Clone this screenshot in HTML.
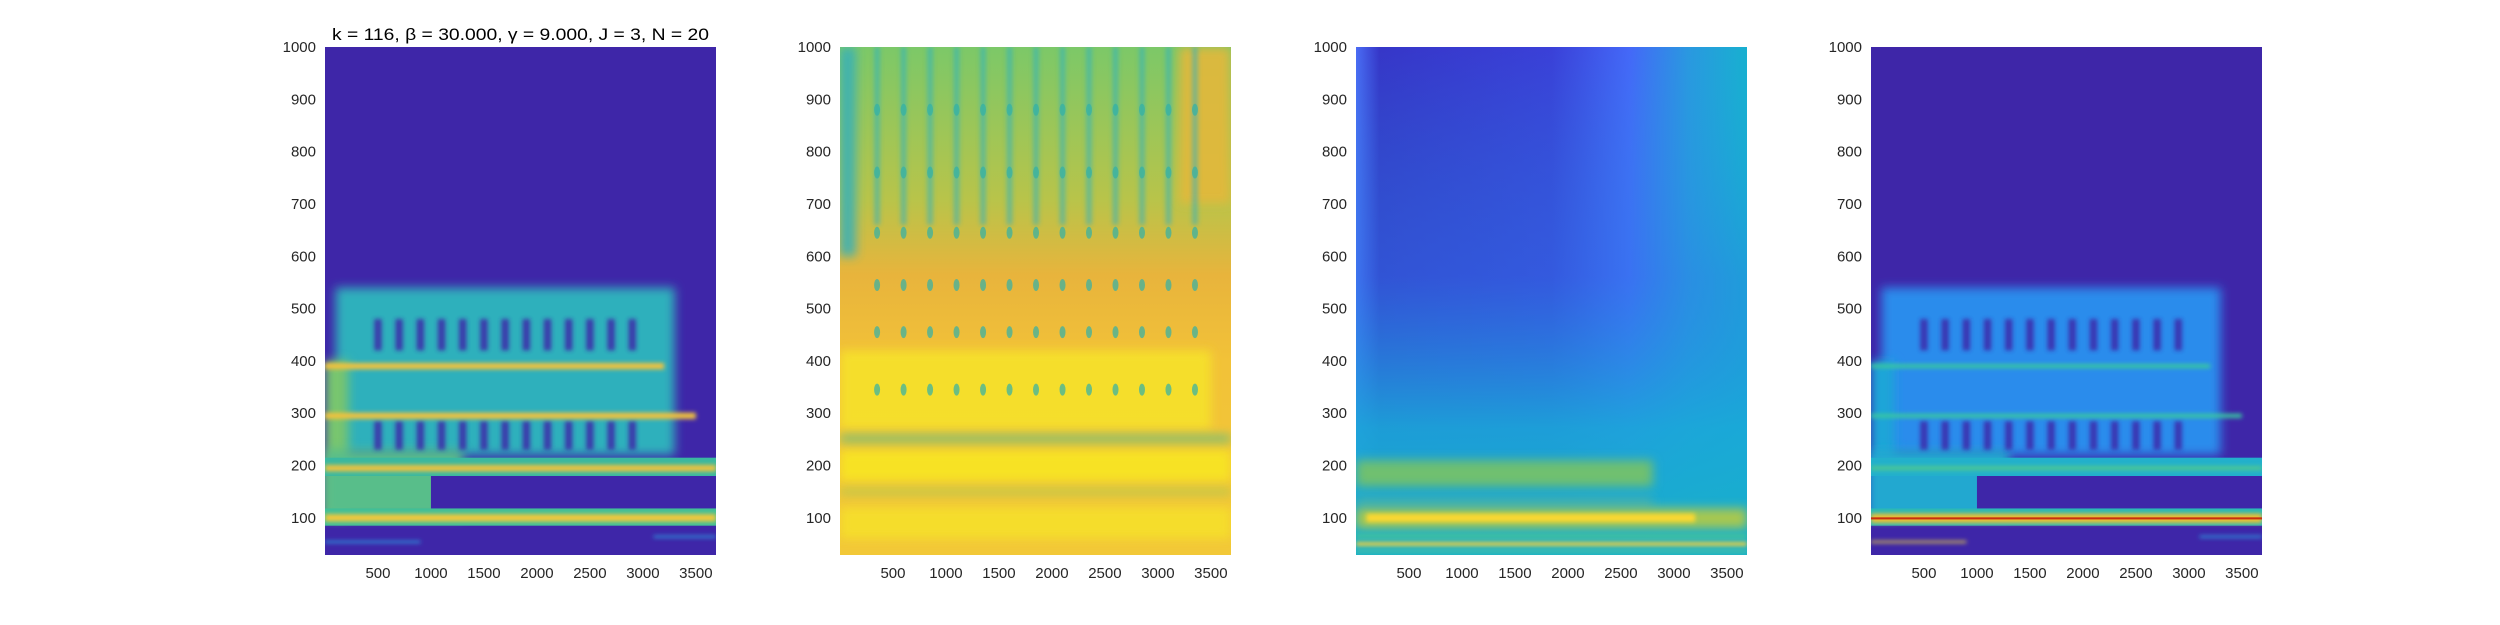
<!DOCTYPE html>
<html><head><meta charset="utf-8"><style>
html,body{margin:0;padding:0;background:#fff;}
svg{display:block;font-family:"Liberation Sans",sans-serif;}
</style></head><body>
<svg id="fig" width="2500" height="625" viewBox="0 0 2500 625" xmlns="http://www.w3.org/2000/svg">
<defs>
<filter id="blur2" filterUnits="userSpaceOnUse" x="0" y="0" width="2500" height="625"><feGaussianBlur stdDeviation="2"/></filter>
<filter id="blur6" filterUnits="userSpaceOnUse" x="0" y="0" width="2500" height="625"><feGaussianBlur stdDeviation="5"/></filter>
<linearGradient id="g2bg" x1="0" y1="0" x2="0" y2="1">
<stop offset="0" stop-color="#7cc868"/><stop offset="0.3" stop-color="#b8c44a"/><stop offset="0.45" stop-color="#e8b43c"/><stop offset="0.62" stop-color="#f2c238"/><stop offset="1" stop-color="#f2c838"/></linearGradient>
<linearGradient id="g3h" x1="0" y1="0" x2="1" y2="0">
<stop offset="0" stop-color="#4a6cf4"/><stop offset="0.06" stop-color="#3636c8"/><stop offset="0.5" stop-color="#3a40d8"/><stop offset="0.7" stop-color="#4468f8"/><stop offset="0.85" stop-color="#2a98e0"/><stop offset="1" stop-color="#18b0d0"/></linearGradient>
<linearGradient id="g3v" x1="0" y1="0" x2="0" y2="1">
<stop offset="0" stop-color="#18a8d8" stop-opacity="0"/><stop offset="0.45" stop-color="#2a80e8" stop-opacity="0.4"/><stop offset="0.75" stop-color="#1aa8d8" stop-opacity="0.9"/><stop offset="1" stop-color="#18b0c8" stop-opacity="1"/></linearGradient>
</defs>
<g id="root"></g>
</svg>
<script>
// ---- axis ranges ----
const xMin = 0, xMax = 3690, yMin = 29, yMax = 1000;
const xTicks = [500,1000,1500,2000,2500,3000,3500];
const yTicks = [100,200,300,400,500,600,700,800,900,1000];
const panelLefts = [325, 840, 1356, 1871];
const titleText = "k = 116, \u03B2 = 30.000, \u03B3 = 9.000, J = 3, N = 20";

// ---- panel 1 bands: [freqLo, freqHi, xStart, xEnd] + colors ----
const p1Lo    = [220, 100, 100, 115, 180, 85, 384, 289, 189, 93, 52, 62];
const p1Hi    = [540, 400, 230, 180, 215, 118, 396, 301, 201, 107, 56, 66];
const p1X0    = [100, 0, 0, 1000, 0, 0, 0, 0, 0, 0, 0, 3100];
const p1X1    = [3300, 220, 1300, 3690, 3690, 3690, 3200, 3500, 3690, 3690, 900, 3690];
const p1Col   = ['#2eb0bc','#78c66e','#58be8a','#3e26a8','#3ab8a0','#40bf98','#f2c23c','#f2c23c','#f2c23c','#f4c83a','#2ca0e0','#2ca0e0'];
// dark holes (x centers) in the upper band regions
const holeX   = [500,700,900,1100,1300,1500,1700,1900,2100,2300,2500,2700,2900];
const holeLo  = [420, 230];
const holeHi  = [480, 285];

// ---- panel 2 bands ----
const p2Lo  = [270, 170, 60, 245, 145, 600, 700];
const p2Hi  = [420, 230, 120, 258, 155, 1000, 1000];
const p2X0  = [0, 0, 0, 0, 0, 0, 3200];
const p2X1  = [3500, 3690, 3690, 3690, 3690, 150, 3690];
const p2Col = ['#f6e22c','#f8e622','#f6e02a','#60bc80','#a8c850','#38b0b8','#e4b83a'];
const p2DotX = [350,600,850,1100,1350,1600,1850,2100,2350,2600,2850,3100,3350];
const p2DotY = [345, 455, 545, 645, 760, 880];

// ---- panel 3 bands ----
const p3Lo  = [160, 120, 80, 92, 60, 46, 34];
const p3Hi  = [210, 140, 118, 108, 70, 54, 38];
const p3X0  = [0, 0, 0, 100, 0, 0, 0];
const p3X1  = [2800, 2800, 3690, 3200, 3690, 3690, 3690];
const p3Col = ['#70c070','#40b0b0','#a8c850','#fad830','#40c0a0','#f0d040','#60c898'];

// ---- panel 4 bands ----
const p4Lo  = [220, 100, 100, 115, 180, 85, 386, 291, 191, 90, 97, 52, 62];
const p4Hi  = [540, 400, 230, 180, 215, 118, 394, 299, 199, 108, 101, 56, 66];
const p4X0  = [100, 0, 0, 1000, 0, 0, 0, 0, 0, 0, 0, 0, 3100];
const p4X1  = [3300, 220, 1300, 3690, 3690, 3690, 3200, 3500, 3690, 3690, 3690, 900, 3690];
const p4Col = ['#2a8cec','#1ea6d8','#20a8d0','#3e26a8','#22b0cc','#28b8b8','#38c8a0','#38c8a0','#50c890','#f0c030','#c83010','#e8d040','#2ca0e0'];

const W = 391, TOP = 47, BOT = 555;
const NS = "http://www.w3.org/2000/svg";
const root = document.getElementById('root');
function el(tag, attrs, parent){const e=document.createElementNS(NS,tag);for(const k in attrs)e.setAttribute(k,attrs[k]);(parent||root).appendChild(e);return e;}
function xs(L,v){return L + (v-xMin)/(xMax-xMin)*W;}
function ys(v){return BOT - (v-yMin)/(yMax-yMin)*(BOT-TOP);}

function bandRect(g,L,lo,hi,x0,x1,col,filt,op){
  const r = el('rect',{x:xs(L,x0),y:ys(hi),width:xs(L,x1)-xs(L,x0),height:ys(lo)-ys(hi),fill:col},g);
  if(filt) r.setAttribute('filter','url(#'+filt+')');
  if(op!==undefined) r.setAttribute('opacity',op);
  
  
  return r;
}

function panel(i){
  const L = panelLefts[i];
  const cp = el('clipPath',{id:'clip'+i});
  el('rect',{x:L,y:TOP,width:W,height:BOT-TOP},cp);
  const g = el('g',{'clip-path':'url(#clip'+i+')'});
  
  
  return {g,L};
}

// panel 1
(function(){
  const {g,L}=panel(0);
  el('rect',{x:L,y:TOP,width:W,height:BOT-TOP,fill:'#3e26a8'},g);
  for(let k=0;k<p1Lo.length;k++){
    const thin = (p1Hi[k]-p1Lo[k])<20;
    bandRect(g,L,p1Lo[k],p1Hi[k],p1X0[k],p1X1[k],p1Col[k],thin?'blur2':(k<3?'blur6':null));
    if(k===2){ for(const hx of holeX){ for(let h=0;h<holeLo.length;h++){ bandRect(g,L,holeLo[h],holeHi[h],hx-35,hx+35,'#3e26a8','blur2',0.85);} } }
  }
})();

// panel 2
(function(){
  const {g,L}=panel(1);
  el('rect',{x:L,y:TOP,width:W,height:BOT-TOP,fill:'url(#g2bg)'},g);
  for(let k=0;k<p2Lo.length;k++) bandRect(g,L,p2Lo[k],p2Hi[k],p2X0[k],p2X1[k],p2Col[k],'blur6',0.9);
  for(const dx of p2DotX){
    const s=el('rect',{x:xs(L,dx)-3,y:ys(1000),width:6,height:ys(660)-ys(1000),fill:'#28b0c8',opacity:0.5,filter:'url(#blur2)'},g);
    
    
    for(const dy of p2DotY){ const c=el('ellipse',{cx:xs(L,dx),cy:ys(dy),rx:3,ry:6,fill:'#30b0a8',opacity:0.7},g);
      
       }
  }
})();

// panel 3
(function(){
  const {g,L}=panel(2);
  el('rect',{x:L,y:TOP,width:W,height:BOT-TOP,fill:'url(#g3h)'},g);
  el('rect',{x:L,y:TOP,width:W,height:BOT-TOP,fill:'url(#g3v)'},g);
  for(let k=0;k<p3Lo.length;k++) bandRect(g,L,p3Lo[k],p3Hi[k],p3X0[k],p3X1[k],p3Col[k],(p3Hi[k]-p3Lo[k])<20?'blur2':'blur6');
})();

// panel 4
(function(){
  const {g,L}=panel(3);
  el('rect',{x:L,y:TOP,width:W,height:BOT-TOP,fill:'#3e26a8'},g);
  for(let k=0;k<p4Lo.length;k++){
    const thin=(p4Hi[k]-p4Lo[k])<20;
    bandRect(g,L,p4Lo[k],p4Hi[k],p4X0[k],p4X1[k],p4Col[k],(k===10)?null:(thin?'blur2':(k<3?'blur6':null)));
    if(k===2){ for(const hx of holeX){ for(let h=0;h<holeLo.length;h++){ bandRect(g,L,holeLo[h],holeHi[h],hx-35,hx+35,'#3e26a8','blur2',0.85);} } }
  }
})();

// axes labels
for(let i=0;i<4;i++){
  const L=panelLefts[i];
  const ax = el('g',{});
  
  
  for(const t of yTicks){
    const tx=el('text',{x:L-9,y:ys(t)+5,'text-anchor':'end','font-size':15,fill:'#262626'},ax);
    
    
    tx.textContent=t;
  }
  for(const t of xTicks){
    const tx=el('text',{x:xs(L,t),y:BOT+23,'text-anchor':'middle','font-size':15,fill:'#262626'},ax);
    
    
    tx.textContent=t;
  }
}
const tt=el('text',{x:panelLefts[0]+W/2,y:40,'text-anchor':'middle','font-size':17,fill:'#000',textLength:377,lengthAdjust:'spacingAndGlyphs'});


tt.textContent=titleText;
</script>
</body></html>
